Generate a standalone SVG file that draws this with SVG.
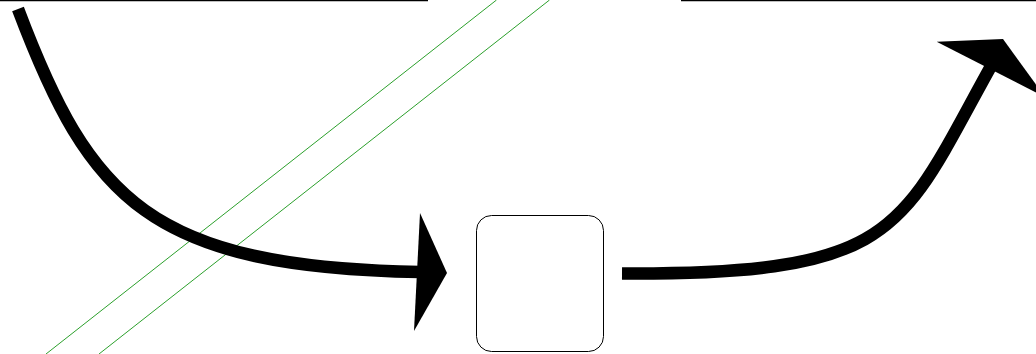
<svg xmlns="http://www.w3.org/2000/svg" width="1036" height="354" viewBox="0 0 1036 354">
  <style>
    .edge { fill: none; stroke: #000; stroke-width: 12.5; stroke-linecap: butt; }
    .head { fill: #000; stroke: none; }
    .guide { stroke: #2ca02c; stroke-width: 1; fill: none; }
    .rule { stroke: #000; stroke-width: 2.6; }
    .box { fill: #fff; stroke: #000; stroke-width: 1; }
  </style>
  <rect width="1036" height="354" fill="#fff"/>
  <g id="rules">
    <line class="rule" x1="0" y1="0" x2="428" y2="0"/>
    <line class="rule" x1="681" y1="0" x2="1036" y2="0"/>
  </g>
  <g id="guides">
    <line class="guide" x1="496.5" y1="0" x2="46" y2="354"/>
    <line class="guide" x1="549.5" y1="0" x2="99" y2="354"/>
  </g>
  <g id="node-box">
    <rect class="box" x="476.5" y="215.5" width="127" height="136" rx="15" ry="15"/>
  </g>
  <g id="connectors">
    <path class="edge" d="M18 9 C90 200 150 267 420 272"/>
    <polygon class="head" points="420,213 447,273 414,331"/>
    <path class="edge" d="M622 273.5 C900 275 900 230 990 68"/>
    <polygon class="head" points="936.7,41.7 1003,39 1045,97"/>
  </g>
</svg>
